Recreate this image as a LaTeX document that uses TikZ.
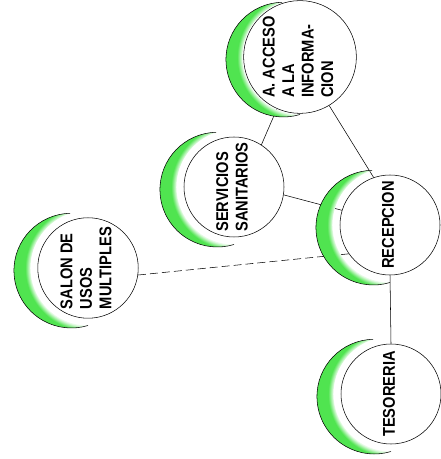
\documentclass[tikz,border=0pt]{standalone}
\usepackage{fontspec}
\setmainfont{Liberation Sans}
\usepackage{graphicx}
\usepackage{xcolor}
\usepackage{tikz}

\definecolor{moongreen}{RGB}{80,228,80}
\colorlet{moonpale}{moongreen!8}
\pgfdeclareradialshading{moonglow}{\pgfpoint{0bp}{0bp}}{color(0bp)=(moonpale); color(14.4bp)=(moonpale); color(15.7bp)=(moongreen); color(50bp)=(moongreen)}

% texto vertical, de abajo hacia arriba
\newcommand{\sidetext}[1]{\rotatebox{90}{\scalebox{1}[1.16]{\begin{tabular}{@{}l@{}}#1\end{tabular}}}}
% media luna verde a la izquierda de un circulo
\newcommand{\moon}[1]{%
  \begin{scope}[shift={(#1.center)}]
    \begin{scope}
      \clip (-17.8,54.7) arc[start angle=91.1, end angle=286.9, radius=57.35]
            arc[start angle=270, end angle=108, radius=57.5] -- cycle;
      \shade[shading=moonglow] (0,0) circle (100);
    \end{scope}
    \draw[thin] (-17.8,54.7) arc[start angle=91.1, end angle=286.9, radius=57.35];
  \end{scope}}

\begin{document}
\begin{tikzpicture}[x=0.75pt, y=0.75pt,
    area/.style={draw, thin, circle, fill=white, minimum size=75pt, inner sep=0pt,
      font=\fontsize{11}{12.6}\selectfont\bfseries},
    link/.style={draw, thin}]
  \useasboundingbox (0,0) rectangle (441,459);

  % Areas
  \node[area] (acceso) at (300,402) {\sidetext{A. ACCESO\\A LA\\INFORMA-\\CION}};
  \node[area] (servicios) at (234,272) {\sidetext{SERVICIOS\\SANITARIOS}};
  \node[area] (recepcion) at (390,234) {\sidetext{RECEPCION}};
  \node[area] (salon) at (88,191) {\sidetext{SALON DE\\USOS\\MULTIPLES}};
  \node[area] (tesoreria) at (391,65) {\sidetext{TESORERIA}};

  % Relaciones
  \draw[link] (acceso.246) -- (servicios.57);
  \draw[link] (acceso.-59) -- (recepcion.109);
  \draw[link] (servicios.-9) -- (recepcion.163);
  \draw[link, dash pattern=on 6pt off 3pt] (salon.-8) -- (recepcion.215);
  \draw[link] (recepcion.south) -- (tesoreria.north);

  % Medias lunas
  \moon{acceso}
  \moon{servicios}
  \moon{recepcion}
  \moon{salon}
  \moon{tesoreria}
\end{tikzpicture}
\end{document}
